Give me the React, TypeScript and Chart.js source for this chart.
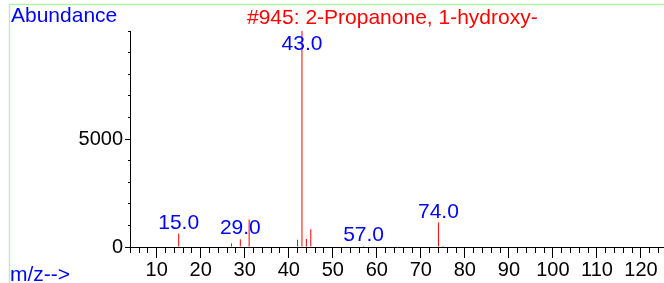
import { useEffect, useRef } from "react";
import { Chart, registerables } from "chart.js";

Chart.register(...registerables);

// ---- data ----
const mzValues = [15, 27, 29, 31, 42, 43, 44, 45, 57, 74, 75];
const abundances = [620, 160, 360, 1270, 340, 9999, 370, 820, 50, 1130, 50];
const labeledPeaks = [15, 29, 43, 57, 74];
const xMajorTicks = [10, 20, 30, 40, 50, 60, 70, 80, 90, 100, 110, 120];
const yMajorTicks = [0, 5000];
const titleText = "#945: 2-Propanone, 1-hydroxy-";
const yAxisTitle = "Abundance";
const xAxisTitle = "m/z-->";

const FONT = "'Liberation Sans', Arial, sans-serif";
const W = 664;
const H = 283;

function alignPixel(p: number) {
  return Math.round(p - 0.5) + 0.5;
}

const decorPlugin = {
  id: "decor",
  beforeDraw(chart: any) {
    const ctx = chart.ctx;
    ctx.save();
    ctx.fillStyle = "#ffffff";
    ctx.fillRect(0, 0, W, H);
    ctx.strokeStyle = "#b0f2b0";
    ctx.lineWidth = 1.3;
    ctx.beginPath();
    ctx.moveTo(9.5, H);
    ctx.lineTo(9.5, 4.5);
    ctx.lineTo(W, 4.5);
    ctx.stroke();
    ctx.restore();
  },
  afterDraw(chart: any) {
    const ctx = chart.ctx;
    const xs = chart.scales.x;
    const ys = chart.scales.y;
    const area = chart.chartArea;
    ctx.save();
    // major tick extensions
    ctx.strokeStyle = "#000";
    ctx.lineWidth = 1;
    ctx.beginPath();
    xMajorTicks.forEach((v) => {
      const px = alignPixel(xs.getPixelForValue(v));
      ctx.moveTo(px, area.bottom);
      ctx.lineTo(px, area.bottom + 11);
    });
    yMajorTicks.forEach((v) => {
      const py = alignPixel(ys.getPixelForValue(v));
      ctx.moveTo(area.left - 5, py);
      ctx.lineTo(area.left, py);
    });
    ctx.stroke();

    // peak labels
    ctx.font = `21px ${FONT}`;
    ctx.fillStyle = "#0000ff";
    ctx.textAlign = "center";
    ctx.textBaseline = "alphabetic";
    labeledPeaks.forEach((mz) => {
      const i = mzValues.indexOf(mz);
      const px = xs.getPixelForValue(mz);
      const py = ys.getPixelForValue(abundances[i]);
      const base = Math.max(py - 5, area.top + 19);
      ctx.fillText(mz.toFixed(1), px, base);
    });

    // texts
    ctx.textAlign = "left";
    ctx.fillStyle = "#0000ff";
    ctx.fillText(yAxisTitle, 11, 22);
    ctx.fillText(xAxisTitle, 10, 281);
    ctx.fillStyle = "#ff0000";
    ctx.fillText(titleText, 247, 24);
    ctx.restore();
  },
};

export default function App() {
  const canvasRef = useRef<HTMLCanvasElement | null>(null);

  useEffect(() => {
    if (!canvasRef.current) return;
    const chart = new Chart(canvasRef.current, {
      type: "bar",
      data: {
        datasets: [
          {
            data: mzValues.map((x, i) => ({ x, y: abundances[i] })),
            backgroundColor: "#ff0000",
            borderWidth: 0,
            barThickness: 1,
            inflateAmount: 0,
          } as any,
        ],
      },
      options: {
        responsive: false,
        animation: false,
        events: [],
        layout: { padding: { top: 31, left: 0, right: 0, bottom: 0 } },
        plugins: {
          legend: { display: false },
          tooltip: { enabled: false },
          title: { display: false },
        },
        scales: {
          x: {
            type: "linear",
            min: 3.94,
            max: 125.23,
            offset: false,
            grid: {
              display: true,
              drawOnChartArea: false,
              drawTicks: true,
              tickLength: 6,
              tickColor: "#000",
              offset: false,
            },
            border: { display: true, color: "#000", width: 1 },
            ticks: {
              stepSize: 2,
              autoSkip: false,
              includeBounds: false,
              maxRotation: 0,
              minRotation: 0,
              maxTicksLimit: 1000,
              color: "#000",
              font: { family: FONT, size: 20 },
              padding: 5,
              callback: (v: any) => (Number(v) % 10 === 0 ? String(v) : ""),
            },
            afterFit: (s: any) => {
              s.height = 36;
            },
          },
          y: {
            type: "linear",
            min: 0,
            max: 10000,
            grid: {
              display: true,
              drawOnChartArea: false,
              drawTicks: true,
              tickLength: 2,
              tickColor: "#000",
            },
            border: { display: true, color: "#000", width: 1 },
            ticks: {
              stepSize: 1000,
              autoSkip: false,
              includeBounds: false,
              maxTicksLimit: 1000,
              color: "#000",
              font: { family: FONT, size: 20 },
              padding: 5,
              callback: (v: any) =>
                Number(v) % 5000 === 0 && Number(v) < 10000 ? String(v) : "",
            },
            afterFit: (s: any) => {
              s.width = 130;
            },
          },
        },
      } as any,
      plugins: [decorPlugin],
    });
    return () => chart.destroy();
  }, []);

  return (
    <div style={{ position: "fixed", left: 0, top: 0, width: W, height: H }}>
      <canvas ref={canvasRef} width={W} height={H} style={{ display: "block" }} />
    </div>
  );
}
